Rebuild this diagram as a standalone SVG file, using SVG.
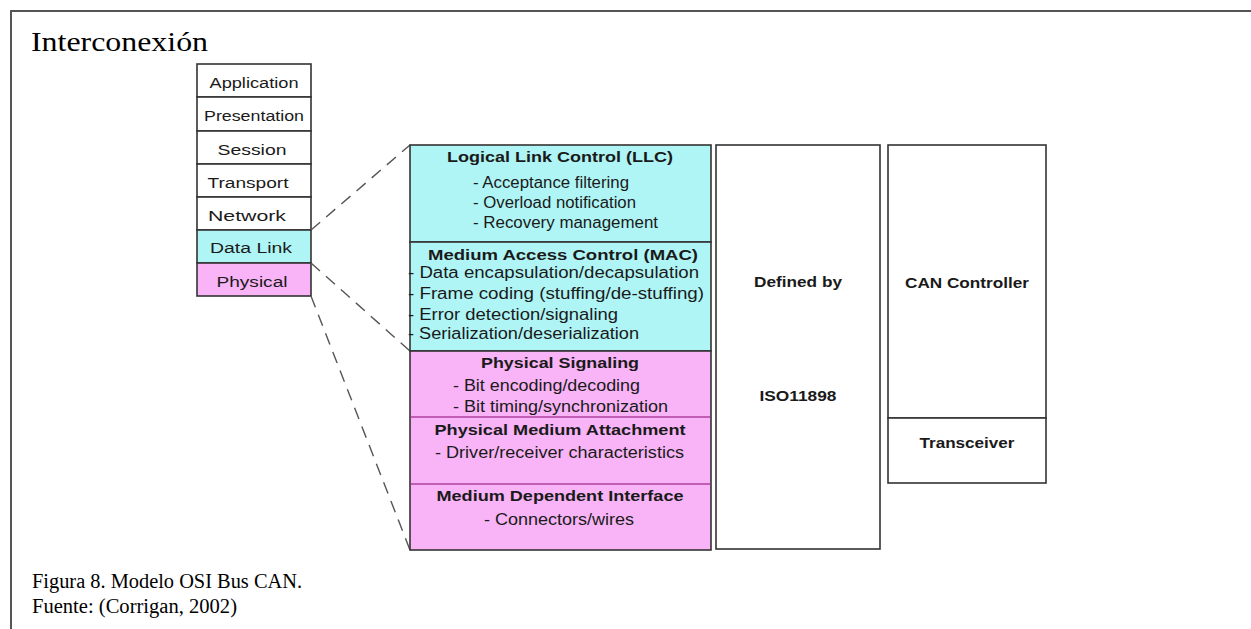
<svg xmlns="http://www.w3.org/2000/svg" width="1251" height="629" viewBox="0 0 1251 629">
  <style>
    .frame { stroke: #555; stroke-width: 2; fill: none; }
    .box { stroke: #333; stroke-width: 1.6; }
    .white { fill: #ffffff; }
    .cyan { fill: #aff5f5; }
    .pink { fill: #f8b4f6; }
    .sub { stroke: #b040a0; stroke-width: 1.4; }
    .dash { stroke: #555; stroke-width: 1.4; stroke-dasharray: 12 8; fill: none; }
    .sans { font-family: "Liberation Sans", Arial, sans-serif; fill: #1a1a1a; }
    .layer { font-size: 15.5px; text-anchor: middle; }
    .head { font-size: 15.5px; font-weight: bold; text-anchor: middle; }
    .item { font-size: 16px; }
    .big { font-size: 15.5px; font-weight: bold; text-anchor: middle; }
    .serif { font-family: "Liberation Serif", "Times New Roman", serif; fill: #000; }
  </style>

  <rect x="0" y="0" width="1251" height="629" fill="#ffffff"/>
  <!-- page frame: top and left rules -->
  <path class="frame" d="M11 629 V11 H1251"/>

  <text class="serif" x="31" y="51" font-size="27" textLength="177" lengthAdjust="spacingAndGlyphs">Interconexión</text>

  <!-- OSI seven-layer stack -->
  <g id="osi-stack">
    <rect class="box white" x="197" y="64" width="114" height="33"/>
    <rect class="box white" x="197" y="97" width="114" height="34"/>
    <rect class="box white" x="197" y="131" width="114" height="33"/>
    <rect class="box white" x="197" y="164" width="114" height="33"/>
    <rect class="box white" x="197" y="197" width="114" height="33"/>
    <rect class="box cyan" x="197" y="230" width="114" height="33"/>
    <rect class="box pink" x="197" y="263" width="114" height="33"/>
    <text class="sans layer" x="254" y="88" textLength="89" lengthAdjust="spacingAndGlyphs">Application</text>
    <text class="sans layer" x="254" y="121" textLength="100" lengthAdjust="spacingAndGlyphs">Presentation</text>
    <text class="sans layer" x="252" y="155" textLength="69" lengthAdjust="spacingAndGlyphs">Session</text>
    <text class="sans layer" x="248" y="188" textLength="81" lengthAdjust="spacingAndGlyphs">Transport</text>
    <text class="sans layer" x="247" y="221" textLength="78" lengthAdjust="spacingAndGlyphs">Network</text>
    <text class="sans layer" x="251" y="253" textLength="82" lengthAdjust="spacingAndGlyphs">Data Link</text>
    <text class="sans layer" x="252" y="287" textLength="71" lengthAdjust="spacingAndGlyphs">Physical</text>
  </g>

  <!-- dashed expansion lines -->
  <g id="connectors">
    <line class="dash" x1="311" y1="230" x2="410" y2="145"/>
    <line class="dash" x1="311" y1="263" x2="410" y2="351"/>
    <line class="dash" x1="311" y1="296" x2="410" y2="550"/>
  </g>

  <!-- data link sublayers -->
  <g id="llc">
    <rect class="box cyan" x="410" y="145" width="301" height="97"/>
    <text class="sans head" x="560" y="162" textLength="226" lengthAdjust="spacingAndGlyphs">Logical Link Control (LLC)</text>
    <text class="sans item" x="473" y="188" textLength="156" lengthAdjust="spacingAndGlyphs">- Acceptance filtering</text>
    <text class="sans item" x="473" y="208" textLength="163" lengthAdjust="spacingAndGlyphs">- Overload notification</text>
    <text class="sans item" x="473" y="228" textLength="185" lengthAdjust="spacingAndGlyphs">- Recovery management</text>
  </g>
  <g id="mac">
    <rect class="box cyan" x="410" y="242" width="301" height="109"/>
    <text class="sans head" x="563" y="260" textLength="270" lengthAdjust="spacingAndGlyphs">Medium Access Control (MAC)</text>
    <text class="sans item" x="408" y="278" textLength="291" lengthAdjust="spacingAndGlyphs">- Data encapsulation/decapsulation</text>
    <text class="sans item" x="408" y="299" textLength="296" lengthAdjust="spacingAndGlyphs">- Frame coding (stuffing/de-stuffing)</text>
    <text class="sans item" x="408" y="320" textLength="210" lengthAdjust="spacingAndGlyphs">- Error detection/signaling</text>
    <text class="sans item" x="408" y="339" textLength="231" lengthAdjust="spacingAndGlyphs">- Serialization/deserialization</text>
  </g>

  <!-- physical sublayers -->
  <g id="physical">
    <rect class="box pink" x="410" y="351" width="301" height="199"/>
  </g>
  <g id="physical-signaling">
    <text class="sans head" x="560" y="368" textLength="158" lengthAdjust="spacingAndGlyphs">Physical Signaling</text>
    <text class="sans item" x="453" y="391" textLength="187" lengthAdjust="spacingAndGlyphs">- Bit encoding/decoding</text>
    <text class="sans item" x="453" y="412" textLength="215" lengthAdjust="spacingAndGlyphs">- Bit timing/synchronization</text>
  </g>
  <g id="pma">
    <line class="sub" x1="411" y1="417" x2="710" y2="417"/>
    <text class="sans head" x="560" y="435" textLength="251" lengthAdjust="spacingAndGlyphs">Physical Medium Attachment</text>
    <text class="sans item" x="435" y="458" textLength="249" lengthAdjust="spacingAndGlyphs">- Driver/receiver characteristics</text>
  </g>
  <g id="mdi">
    <line class="sub" x1="411" y1="484" x2="710" y2="484"/>
    <text class="sans head" x="560" y="501" textLength="247" lengthAdjust="spacingAndGlyphs">Medium Dependent Interface</text>
    <text class="sans item" x="484" y="525" textLength="150" lengthAdjust="spacingAndGlyphs">- Connectors/wires</text>
  </g>

  <!-- standard column -->
  <g id="iso11898">
    <rect class="box white" x="716" y="145" width="164" height="404"/>
    <text class="sans big" x="798" y="287" textLength="88" lengthAdjust="spacingAndGlyphs">Defined by</text>
    <text class="sans big" x="798" y="401" textLength="77" lengthAdjust="spacingAndGlyphs">ISO11898</text>
  </g>

  <!-- implementation column -->
  <g id="can-controller">
    <rect class="box white" x="888" y="145" width="158" height="273"/>
    <text class="sans big" x="967" y="288" textLength="124" lengthAdjust="spacingAndGlyphs">CAN Controller</text>
  </g>
  <g id="transceiver">
    <rect class="box white" x="888" y="418" width="158" height="65"/>
    <text class="sans big" x="967" y="448" textLength="95" lengthAdjust="spacingAndGlyphs">Transceiver</text>
  </g>

  <text class="serif" x="32" y="588" font-size="20" textLength="270" lengthAdjust="spacingAndGlyphs">Figura 8. Modelo OSI Bus CAN.</text>
  <text class="serif" x="32" y="613" font-size="20" textLength="205" lengthAdjust="spacingAndGlyphs">Fuente: (Corrigan, 2002)</text>
</svg>
